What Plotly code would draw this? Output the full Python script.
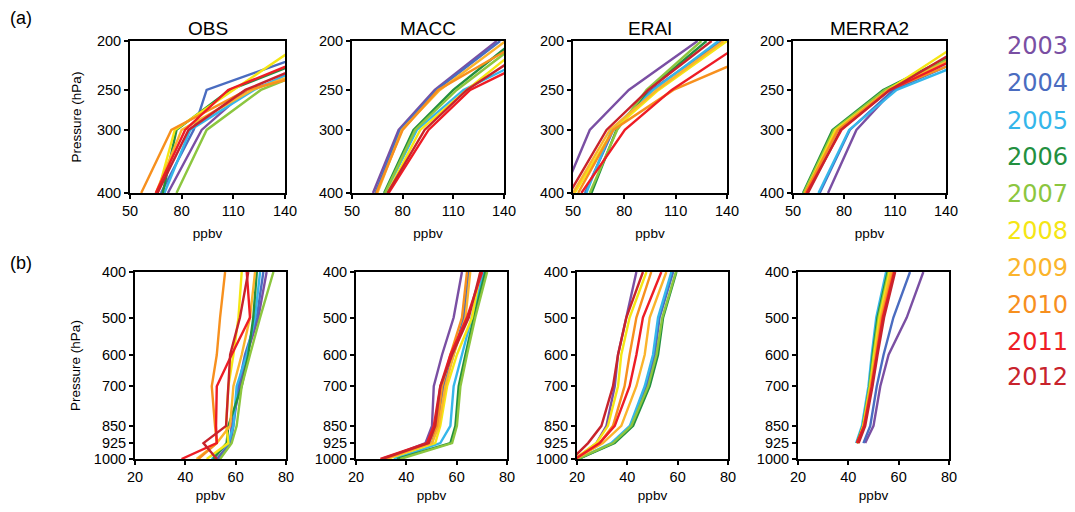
import plotly.graph_objects as go
import numpy as np

years = ["2003", "2004", "2005", "2006", "2007", "2008", "2009", "2010", "2011", "2012"]
colors = ["#7a4fa3", "#4a6cc0", "#35b6ea", "#23903f", "#8cc63f", "#f5e614",
          "#fbb42c", "#f7901e", "#ee1c25", "#c8232c"]

models = ["OBS", "MACC", "ERAI", "MERRA2"]

# upper troposphere (panel a)
p_upper = [400, 300, 250, 200]
upper = {
    "OBS": [
        [72, 91.6, 118, 218], [68, 87, 94.5, 174], [70, 85, 122, 183], [69, 77, 108, 180],
        [77, 94.5, 126, 196], [66, 76, 110, 152], [65, 80, 121, 200], [56.5, 74, 118, 230],
        [65, 82, 107, 177], [66, 84, 117, 185]],
    "MACC": [
        [62.4, 77.6, 99, 135.7], [63.8, 78.6, 100, 137.7], [69.7, 88.4, 116, 175], [69, 86.4, 110, 146],
        [69.5, 87.4, 112, 150], [71, 90.4, 118, 154], [65, 79.5, 102, 141], [64.4, 80, 101, 151],
        [71.7, 95.3, 120, 179], [71, 93, 118, 162]],
    "ERAI": [
        [44.3, 59.8, 82.6, 122.8], [57, 73.5, 96, 137], [57.8, 72.5, 97, 135], [60.8, 75.4, 94, 128],
        [59.8, 75.8, 93, 125], [51, 73.5, 100, 140], [50, 71.5, 99, 138], [53, 73.5, 108.7, 175],
        [54.9, 80.3, 107.7, 151], [48, 69.6, 94, 131]],
    "MERRA2": [
        [70.6, 87.3, 109, 166], [65.7, 83.4, 109, 174.5], [65, 83, 111, 182.6], [55.9, 73.2, 103, 160.6],
        [56.3, 74, 104, 163], [57, 75, 106, 150], [57.3, 76, 106, 165], [57.1, 76.5, 106, 178],
        [58, 78.5, 107, 168], [58.8, 78, 107, 156]],
}

# lower troposphere (panel b)
p_lower = [400, 500, 600, 700, 850, 925, 1000]
p_lower_merra = [400, 500, 600, 700, 850, 925]
lower = {
    "OBS": [
        [72.3, 69.0, 64.4, 61.7, 58.4, 57.8, 52.5], [71.0, 68.4, 63.7, 61.1, 59.1, 58.0, 53.1],
        [69.7, 67.7, 64.4, 60.4, 59.1, 57.1, 50.5], [68.4, 67.0, 65.0, 62.4, 57.1, 56.4, 51.1],
        [75.0, 69.7, 65.7, 62.4, 60.4, 58.4, 53.8], [62.4, 61.1, 59.1, 57.1, 56.2, 57.1, 48.5],
        [67.7, 65.7, 62.4, 59.1, 57.8, 52.5, 44.5], [55.8, 53.8, 52.5, 50.5, 51.8, 52.5, 45.2],
        [64.4, 65.7, 58.4, 52.5, 52.2, 52.5, 38.5], [65.0, 61.7, 57.8, 57.1, 56.2, 47.2, 52.5]],
    "MACC": [
        [62.1, 58.8, 54.2, 50.9, 50.2, 47.6, 31.0], [64.8, 62.8, 58.8, 54.8, 52.2, 50.2, 31.7],
        [70.7, 66.1, 62.1, 58.8, 57.5, 53.5, 35.0], [71.4, 66.8, 63.5, 60.8, 59.5, 57.5, 36.3],
        [72.1, 67.4, 64.1, 61.5, 60.1, 58.2, 37.6], [69.4, 66.1, 60.1, 56.2, 53.5, 51.5, 32.3],
        [65.4, 63.5, 58.8, 55.5, 52.9, 50.2, 31.7], [64.1, 62.1, 57.5, 54.2, 52.2, 48.9, 31.0],
        [70.1, 64.1, 57.5, 53.5, 50.9, 48.2, 29.7], [69.4, 64.8, 58.2, 53.5, 51.5, 48.9, 30.3]],
    "ERAI": [
        [43.6, 39.6, 36.3, 35.0, 31.7, 27.7, 19.5], [58.2, 52.8, 50.9, 47.6, 41.2, 34.3, 20.6],
        [57.5, 52.2, 50.2, 46.9, 41.0, 33.6, 20.5], [59.5, 54.2, 52.2, 48.9, 42.3, 35.0, 20.5],
        [59.3, 53.9, 51.6, 48.3, 41.6, 34.3, 20.2], [47.6, 40.9, 37.6, 36.3, 32.3, 27.7, 19.0],
        [55.5, 48.9, 46.9, 43.6, 37.6, 30.3, 19.5], [49.5, 43.6, 40.9, 38.9, 34.3, 29.0, 19.0],
        [53.5, 46.2, 43.6, 40.9, 35.0, 29.0, 19.3], [46.2, 39.6, 36.3, 34.3, 29.7, 24.4, 18.0]],
    "MERRA2": [
        [69.8, 63.2, 56.0, 52.7, 50.0, 46.7], [64.5, 57.9, 54.0, 51.3, 48.7, 46.0],
        [55.0, 51.1, 49.3, 48.0, 45.4, 43.1], [55.6, 51.6, 49.7, 48.4, 45.8, 43.4],
        [56.0, 52.0, 50.0, 48.4, 45.8, 43.4], [56.4, 52.4, 50.3, 48.7, 46.0, 43.7],
        [56.9, 52.9, 50.7, 49.0, 46.0, 43.7], [57.7, 53.3, 51.1, 49.1, 46.3, 43.8],
        [58.2, 53.7, 51.3, 49.3, 46.3, 43.4], [58.6, 54.2, 51.6, 49.6, 46.7, 44.1]],
}

upper_xticks = [50, 80, 110, 140]
upper_yticks = [200, 250, 300, 400]
lower_xticks = [20, 40, 60, 80]
lower_yticks = [400, 500, 600, 700, 850, 925, 1000]

W, H = 1075, 512
top_x = [(130, 285), (352, 504), (573, 727), (793, 946)]
bot_x = [(135, 286), (356, 507), (577, 728), (798, 949)]
top_y = (41, 193)
bot_y = (272, 459)

def xd(a, b):
    return [a / W, b / W]

def yd(a, b):
    return [1 - b / H, 1 - a / H]

fig = go.Figure()
font = "Liberation Sans, Arial, sans-serif"
layout = {}
ann = []

axis_common = dict(showline=True, linecolor="black", linewidth=2, mirror=True,
                   ticks="outside", ticklen=4, tickwidth=1.5, tickcolor="black",
                   showgrid=False, zeroline=False, automargin=False,
                   tickfont=dict(family=font, size=14.5, color="black"))
title_font = dict(family=font, size=13.5, color="black")

for i, m in enumerate(models):
    # top row
    k = i + 1
    xa, ya = f"x{k}", f"y{k}"
    for j, yr in enumerate(years):
        fig.add_trace(go.Scatter(x=upper[m][j], y=p_upper, mode="lines",
                                 line=dict(color=colors[j], width=2.4),
                                 xaxis=xa, yaxis=ya, showlegend=False, name=yr))
    layout[f"xaxis{k}"] = dict(domain=xd(*top_x[i]), anchor=ya, range=[50, 140],
                               tickvals=upper_xticks,
                               title=dict(text="ppbv", font=title_font, standoff=10),
                               **axis_common)
    layout[f"yaxis{k}"] = dict(domain=yd(*top_y), anchor=xa, type="log",
                               range=[np.log10(400), np.log10(200)],
                               tickvals=upper_yticks, ticktext=[str(v) for v in upper_yticks],
                               **axis_common)
    ann.append(dict(text=m, x=(top_x[i][0] + top_x[i][1]) / 2 / W, y=1 - 28 / H,
                    xref="paper", yref="paper", showarrow=False,
                    xanchor="center", yanchor="middle",
                    font=dict(family=font, size=19, color="black")))

    # bottom row
    k2 = i + 5
    xa2, ya2 = f"x{k2}", f"y{k2}"
    pl = p_lower_merra if m == "MERRA2" else p_lower
    for j, yr in enumerate(years):
        fig.add_trace(go.Scatter(x=lower[m][j], y=pl, mode="lines",
                                 line=dict(color=colors[j], width=2.4),
                                 xaxis=xa2, yaxis=ya2, showlegend=False, name=yr))
    layout[f"xaxis{k2}"] = dict(domain=xd(*bot_x[i]), anchor=ya2, range=[20, 80],
                                tickvals=lower_xticks,
                                title=dict(text="ppbv", font=title_font, standoff=6),
                                **axis_common)
    layout[f"yaxis{k2}"] = dict(domain=yd(*bot_y), anchor=xa2, type="log",
                                range=[np.log10(1000), np.log10(400)],
                                tickvals=lower_yticks, ticktext=[str(v) for v in lower_yticks],
                                **axis_common)

layout["yaxis1"]["title"] = dict(text="Pressure (hPa)", font=title_font, standoff=12)
layout["yaxis5"]["title"] = dict(text="Pressure (hPa)", font=title_font, standoff=10)

# panel labels
ann.append(dict(text="(a)", x=8 / W, y=1 - 18 / H, xref="paper", yref="paper", showarrow=False,
                xanchor="left", yanchor="middle", font=dict(family=font, size=18, color="black")))
ann.append(dict(text="(b)", x=8 / W, y=1 - 263 / H, xref="paper", yref="paper", showarrow=False,
                xanchor="left", yanchor="middle", font=dict(family=font, size=18, color="black")))

# year legend
leg_y = [46, 83, 121, 157, 194, 231, 268, 305, 342, 377]
for j, yr in enumerate(years):
    ann.append(dict(text=yr, x=1037 / W, y=1 - leg_y[j] / H, xref="paper", yref="paper",
                    showarrow=False, xanchor="center", yanchor="middle",
                    font=dict(family="DejaVu Sans, Verdana, sans-serif", size=24, color=colors[j])))

fig.update_layout(width=W, height=H, margin=dict(l=0, r=0, t=0, b=0, autoexpand=False),
                  paper_bgcolor="white", plot_bgcolor="white", annotations=ann, **layout)

fig.write_html("out.html", config={"displayModeBar": False},
               post_script="document.body.style.margin='0';")
